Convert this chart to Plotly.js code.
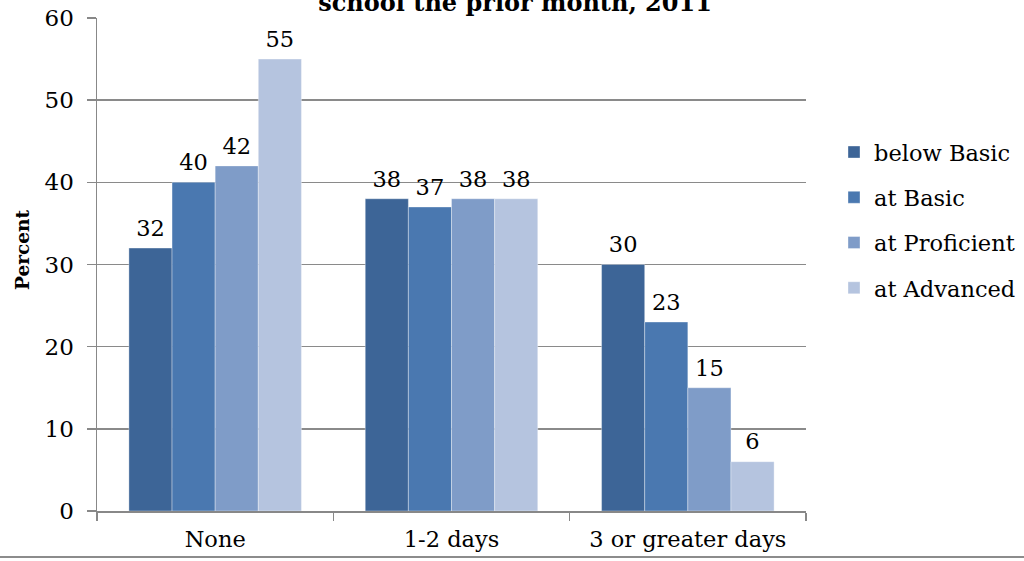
<!DOCTYPE html>
<html>
<head>
<meta charset="utf-8">
<script src="https://cdn.plot.ly/plotly-3.0.1.min.js"></script>
<style>html,body{margin:0;padding:0;background:#fff;}#chart{width:1024px;height:561px;}</style>
</head>
<body>
<div id="chart"></div>
<script>
const categories = ['None', '1-2 days', '3 or greater days'];
const seriesNames = ['below Basic', 'at Basic', 'at Proficient', 'at Advanced'];
const belowBasic = [32, 38, 30];
const atBasic = [40, 37, 23];
const atProficient = [42, 38, 15];
const atAdvanced = [55, 38, 6];
const yTicks = [0, 10, 20, 30, 40, 50, 60];
const titleText = 'school the prior month, 2011';
const yTitle = 'Percent';

const seriesValues = [belowBasic, atBasic, atProficient, atAdvanced];
const colors = ['#3d6597', '#4a78b0', '#7f9cc8', '#b5c4df'];
const serif = 'DejaVu Serif, Liberation Serif, serif';

const barTraces = seriesValues.map((vals, i) => ({
  type: 'bar',
  name: seriesNames[i],
  x: categories,
  y: vals,
  marker: {color: colors[i], line: {color: 'rgba(255,255,255,0.35)', width: 1}},
  legendgroup: 'g' + i,
  offsetgroup: 'o' + i,
  hoverinfo: 'none'
}));

const labelTraces = seriesValues.map((vals, i) => ({
  type: 'scatter',
  mode: 'markers+text',
  x: categories,
  y: vals,
  text: vals.map(String),
  textposition: 'top center',
  textfont: {family: serif, size: 22.5, color: '#000'},
  marker: {size: 9, opacity: 0},
  cliponaxis: false,
  showlegend: false,
  offsetgroup: 'o' + i,
  hoverinfo: 'none'
}));

const W = 1024, H = 561, L = 97, R = 218, T = 18, B = 50;
const pw = W - L - R, ph = H - T - B;

const layout = {
  width: W, height: H,
  margin: {l: L, r: R, t: T, b: B, pad: 0, autoexpand: false},
  paper_bgcolor: '#fff', plot_bgcolor: '#fff',
  barmode: 'group',
  bargap: 0.27,
  bargroupgap: 0,
  scattermode: 'group',
  scattergap: 0.27,
  showlegend: true,
  title: {
    text: '<b>' + titleText + '</b>',
    font: {family: serif, size: 24, color: '#000'},
    x: 0.503, xanchor: 'center',
    y: 0.9804, yanchor: 'bottom', yref: 'container'
  },
  legend: {
    x: 1.0395, xanchor: 'left', y: 0.771, yanchor: 'top',
    font: {family: serif, size: 22.5, color: '#000'},
    tracegroupgap: 13,
    itemwidth: 30,
    bgcolor: 'rgba(0,0,0,0)'
  },
  xaxis: {
    type: 'category',
    range: [-0.5, 2.5],
    showline: true, linecolor: '#888', linewidth: 2,
    ticks: 'outside', tickson: 'boundaries', ticklen: 8, tickcolor: '#888', tickwidth: 1.5,
    showgrid: false,
    tickfont: {family: serif, size: 22.5, color: '#000'},
    ticklabelstandoff: 7,
    fixedrange: true
  },
  yaxis: {
    range: [0, 60],
    tickvals: yTicks,
    showline: true, linecolor: '#888', linewidth: 1.5,
    ticks: 'outside', ticklen: 9, tickcolor: '#888', tickwidth: 1.5,
    showgrid: true, gridcolor: '#8a8a8a', gridwidth: 1.5,
    zeroline: false,
    tickfont: {family: serif, size: 23, color: '#000'},
    ticklabelstandoff: 8,
    fixedrange: true
  },
  annotations: [{
    text: '<b>' + yTitle + '</b>',
    textangle: -90,
    xref: 'paper', yref: 'paper',
    x: (22 - L) / pw, xanchor: 'center',
    y: (H - B - 250) / ph, yanchor: 'middle',
    showarrow: false,
    font: {family: serif, size: 18.5, color: '#000'}
  }],
  shapes: [{
    type: 'line', xref: 'paper', yref: 'paper',
    x0: -L / pw, x1: (W - L) / pw,
    y0: -(557 - (H - B)) / ph, y1: -(557 - (H - B)) / ph,
    line: {color: '#8c8c8c', width: 2}
  }]
};

Plotly.newPlot('chart', barTraces.concat(labelTraces), layout, {displayModeBar: false, staticPlot: true});
</script>
</body>
</html>
